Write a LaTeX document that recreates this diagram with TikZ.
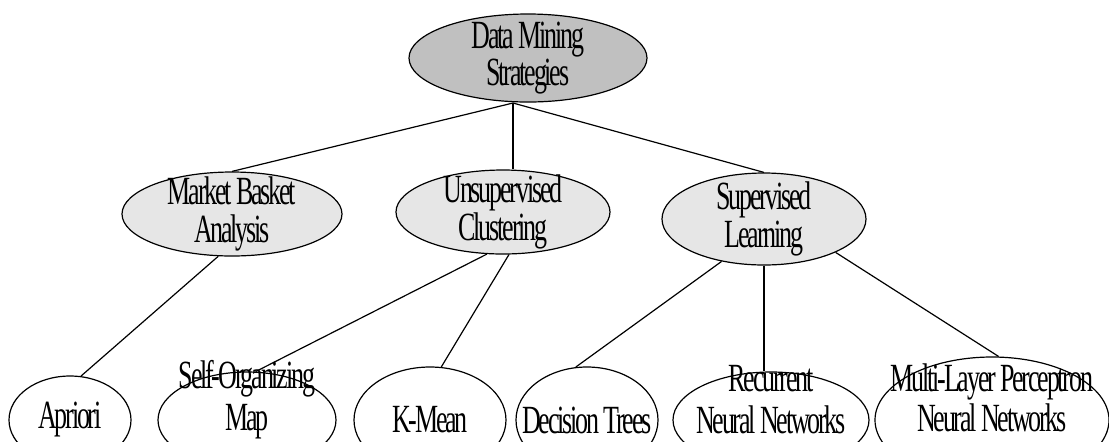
\documentclass[tikz,border=0pt]{standalone}
\usepackage{fontspec}
\setmainfont{Liberation Serif}[FakeStretch=0.65,LetterSpace=-5.5]
\usetikzlibrary{shapes.geometric, positioning, calc}
\definecolor{rootgray}{RGB}{192,192,192}
\definecolor{midgray}{RGB}{230,230,230}
\tikzset{
  oval/.style={ellipse, draw=black, inner sep=0pt, line width=0.6pt},
  rootnode/.style={oval, fill=rootgray},
  midnode/.style={oval, fill=midgray},
  leafnode/.style={oval, fill=white},
  txt/.style={align=center, font={\fontsize{20pt}{#1}\selectfont}},
  txt/.default=19pt,
  branch/.style={line width=0.6pt, color=black}
}

\begin{document}
\begin{tikzpicture}[x=0.5pt, y=-0.5pt]
  \useasboundingbox (0,0) rectangle (1109,441);
  \clip (0,0) rectangle (1109,441);
  % top level
  \node[rootnode, minimum width=119pt, minimum height=44pt,
        label={[txt=17pt]center:{Data Mining\\Strategies}}] (root) at (528,58) {};
  % strategies
  \node[midnode, minimum width=110pt, minimum height=42pt,
        label={[txt]center:{Market Basket\\Analysis}}] (mb) at (232,214) {};
  \node[midnode, minimum width=107pt, minimum height=42pt,
        label={[txt]center:{Unsupervised\\Clustering}}] (uc) at (503,212) {};
  \node[midnode, minimum width=102pt, minimum height=46pt,
        label={[txt]center:{Supervised\\Learning}}] (sl) at (764,219) {};
  % methods
  \node[leafnode, minimum width=61pt, minimum height=44pt,
        label={[txt]center:Apriori}] (apriori) at (70,420) {};
  \node[leafnode, minimum width=89pt, minimum height=48pt,
        label={[txt=21pt, yshift=10pt]center:{Self-Organizing\\Map}}] (som) at (247,420) {};
  \node[leafnode, minimum width=76pt, minimum height=53pt,
        label={[txt]center:K-Mean}] (kmean) at (430,420) {};
  \node[leafnode, minimum width=71pt, minimum height=53pt,
        label={[txt]center:Decision Trees}] (dt) at (587,420) {};
  \node[leafnode, minimum width=98pt, minimum height=48pt,
        label={[txt=21pt, yshift=10pt]center:{Recurrent\\Neural Networks}}] (rec) at (771,420) {};
  \node[leafnode, minimum width=117pt, minimum height=63pt,
        label={[txt=20pt, yshift=11pt]center:{Multi-Layer Perceptron\\Neural Networks}}] (multi) at (992,420) {};

  \coordinate (hub) at (513,103);
  \draw[branch] (hub) -- (mb.north);
  \draw[branch] (hub) -- (hub |- uc.north);
  \draw[branch] (hub) -- (sl.north);
  \draw[branch] (mb.252) -- (apriori.76);
  \draw[branch] (uc.249) -- (som.80);
  \draw[branch] (uc.278) -- (kmean.78);
  \draw[branch] (sl.225) -- (dt.102);
  \draw[branch] (sl.south) -- (sl.south |- rec.north);
  \draw[branch] (sl.335) -- (multi.84);
\end{tikzpicture}
\end{document}
